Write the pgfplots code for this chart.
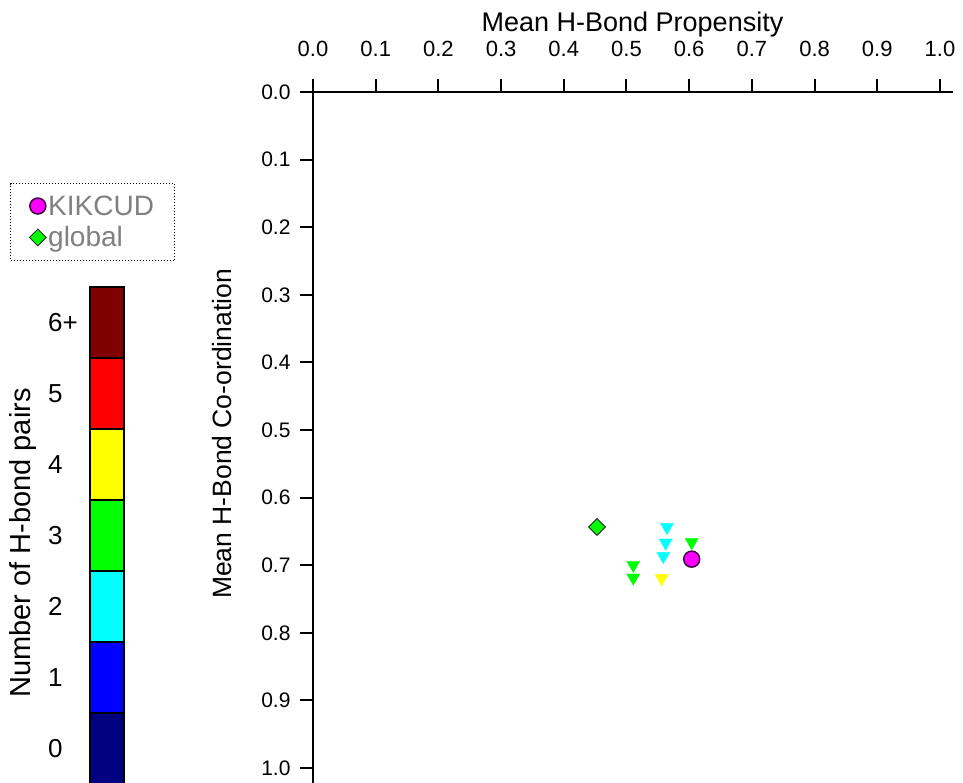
\documentclass[border=0pt]{standalone}
\usepackage{pgfplots}
\pgfplotsset{compat=1.18}
\usepackage{fontspec}
\setmainfont{Liberation Sans}
\definecolor{cbnavy}{RGB}{0,0,128}
\definecolor{cbblue}{RGB}{0,0,255}
\definecolor{cbcyan}{RGB}{0,255,255}
\definecolor{cbgreen}{RGB}{0,255,0}
\definecolor{cbyellow}{RGB}{255,255,0}
\definecolor{cbred}{RGB}{255,0,0}
\definecolor{cbdred}{RGB}{128,0,0}
\definecolor{mymag}{RGB}{255,0,255}
\definecolor{legtext}{RGB}{128,128,128}
\begin{document}
\begin{tikzpicture}
\useasboundingbox (0pt,0pt) rectangle (963pt,782pt);
% main axis
\begin{axis}[
  at={(313pt,690pt)}, anchor=north west,
  scale only axis, width=639.5pt, height=696.3pt,
  xmin=0, xmax=1.02, ymin=0, ymax=1.03, y dir=reverse,
  axis x line*=top, axis y line*=left,
  axis line style={line width=2.4pt, black},
  tick align=outside, major tick length=13pt,
  every tick/.append style={line width=2pt, black},
  xtick={0,0.1,0.2,0.3,0.4,0.5,0.6,0.7,0.8,0.9,1.0},
  ytick={0,0.1,0.2,0.3,0.4,0.5,0.6,0.7,0.8,0.9,1.0},
  /pgf/number format/.cd, fixed, fixed zerofill, precision=1, assume math mode=true,
  /pgfplots/.cd,
  xticklabel style={font=\fontsize{22}{22}\selectfont, yshift=19pt},
  yticklabel style={font=\fontsize{21}{21}\selectfont, xshift=-6pt},
  legend style={at={(-0.4738,0.8693)}, anchor=north west, draw=black, dotted, line width=1pt,
     font=\fontsize{28}{30}\selectfont, text=legtext, inner xsep=19pt, inner ysep=10pt,
     row sep=6pt},
  legend cell align=left,
  legend image code/.code={\draw[solid, mark repeat=2, mark phase=2, draw=none] plot coordinates {(-8pt,0pt) (0pt,0pt) (8pt,0pt)};},
  clip=false,
]
\addplot[only marks, forget plot, mark=triangle*, mark size=7.5pt,
  mark options={rotate=180, fill=cbcyan, draw=cbcyan}] coordinates {
  (0.5646,0.6435) (0.5625,0.6667) (0.5587,0.6864)};
\addplot[only marks, forget plot, mark=triangle*, mark size=7.5pt,
  mark options={rotate=180, fill=cbgreen, draw=cbgreen}] coordinates {
  (0.6040,0.6660) (0.5108,0.6997) (0.5108,0.7185)};
\addplot[only marks, forget plot, mark=triangle*, mark size=7.5pt,
  mark options={rotate=180, fill=cbyellow, draw=cbyellow}] coordinates {
  (0.5561,0.7195)};
\addplot[only marks, mark=*, mark size=8pt,
  mark options={solid, fill=mymag, draw={rgb,255:red,60;green,0;blue,60}, line width=1.5pt}] coordinates {
  (0.6040,0.6910)};
\addlegendentry{KIKCUD}
\addplot[only marks, mark=square*, mark size=5.9pt,
  mark options={solid, rotate=45, fill=cbgreen, draw=black!80, line width=1pt}] coordinates {
  (0.4530,0.6435)};
\addlegendentry{global}
\end{axis}
% colour bar
\begin{axis}[
  at={(90pt,495pt)}, anchor=north west,
  scale only axis, width=34pt, height=497pt,
  xmin=0, xmax=1, ymin=0, ymax=7,
  axis line style={draw=none},
  xtick=\empty,
  ytick={0.5,1.5,2.5,3.5,4.5,5.5,6.5},
  yticklabels={0,1,2,3,4,5,6+},
  major tick length=0pt,
  yticklabel style={font=\fontsize{26}{26}\selectfont, anchor=west, inner sep=0pt, xshift=-42pt},
  clip=false,
]
\addplot[fill=cbnavy, draw=black, line width=1.2pt] coordinates {(0,0) (1,0) (1,1) (0,1)} -- cycle;
\addplot[fill=cbblue, draw=black, line width=1.2pt] coordinates {(0,1) (1,1) (1,2) (0,2)} -- cycle;
\addplot[fill=cbcyan, draw=black, line width=1.2pt] coordinates {(0,2) (1,2) (1,3) (0,3)} -- cycle;
\addplot[fill=cbgreen, draw=black, line width=1.2pt] coordinates {(0,3) (1,3) (1,4) (0,4)} -- cycle;
\addplot[fill=cbyellow, draw=black, line width=1.2pt] coordinates {(0,4) (1,4) (1,5) (0,5)} -- cycle;
\addplot[fill=cbred, draw=black, line width=1.2pt] coordinates {(0,5) (1,5) (1,6) (0,6)} -- cycle;
\addplot[fill=cbdred, draw=black, line width=1.2pt] coordinates {(0,6) (1,6) (1,7) (0,7)} -- cycle;
\end{axis}
% titles
\node[font=\fontsize{27}{27}\selectfont] at (632.5pt,757pt) {Mean H-Bond Propensity};
\node[font=\fontsize{26.5}{26.5}\selectfont, rotate=90] at (222pt,348pt) {Mean H-Bond Co-ordination};
\node[font=\fontsize{29}{29}\selectfont, rotate=90] at (23pt,239pt) {Number of H-bond pairs};
\end{tikzpicture}
\end{document}
